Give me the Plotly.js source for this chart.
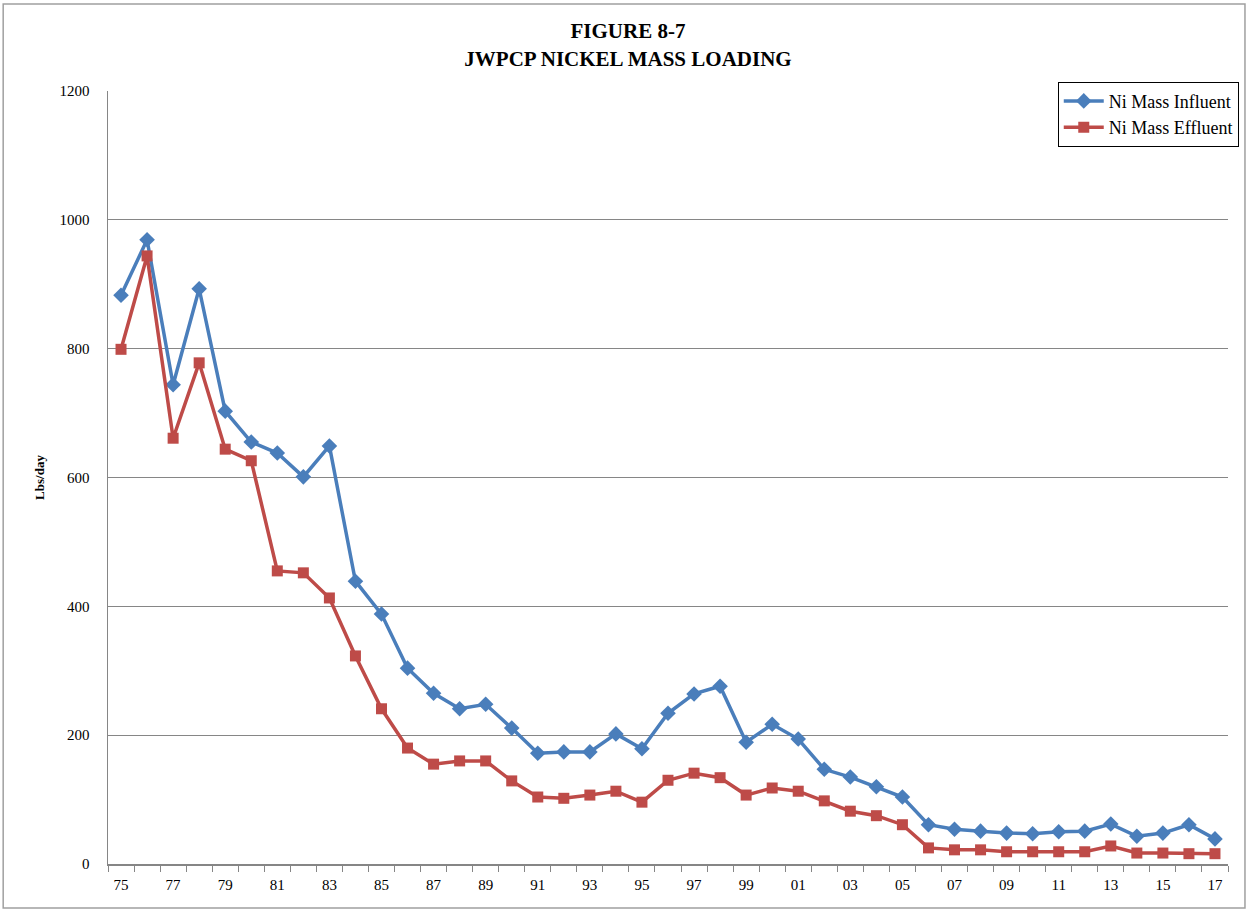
<!DOCTYPE html>
<html>
<head>
<meta charset="utf-8">
<script src="https://cdn.plot.ly/plotly-3.0.1.min.js"></script>
<style>
html,body{margin:0;padding:0;background:#fff;}
#chart{width:1251px;height:912px;}
</style>
</head>
<body>
<div id="chart"></div>
<script>
const categories = ["75","76","77","78","79","80","81","82","83","84","85","86","87","88","89","90","91","92","93","94","95","96","97","98","99","00","01","02","03","04","05","06","07","08","09","10","11","12","13","14","15","16","17"];
const influent = [883,969,744,893,703,655,638,601,649,439,388,304,265,241,248,211,172,174,174,202,179,234,264,276,189,217,194,147,135,120,104,61,54,51,48,47,50,51,62,43,48,61,39];
const effluent = [799,944,661,778,644,626,455,452,413,323,241,180,155,160,160,129,104,102,107,113,96,130,141,134,107,118,113,98,82,75,61,25,22,22,19,19,19,19,28,17,17,16,16];
const seriesNames = ["Ni Mass Influent","Ni Mass Effluent"];
const yTicks = [0,200,400,600,800,1000,1200];

const xIdx = categories.map((c,i)=>i);
const tickText = categories.map((c,i)=> i%2===0 ? c : "");

const traces = [
  {x:xIdx, y:influent, name:seriesNames[0], type:"scatter", mode:"lines+markers",
   line:{color:"#4A7EBB", width:3.5}, marker:{symbol:"diamond", size:12, color:"#4A7EBB"}},
  {x:xIdx, y:effluent, name:seriesNames[1], type:"scatter", mode:"lines+markers",
   line:{color:"#BE4B48", width:3.5}, marker:{symbol:"square", size:11, color:"#BE4B48"}}
];

const layout = {
  width:1251, height:912,
  margin:{l:108, r:21, t:91, b:48},
  paper_bgcolor:"#fff", plot_bgcolor:"#fff",
  font:{family:"Liberation Serif, Times New Roman, serif", color:"#000", size:14},
  title:{text:"<b>FIGURE 8-7</b><br><b>JWPCP NICKEL MASS LOADING</b>", x:0.502, xref:"container", xanchor:"center", y:0.958, yref:"container", yanchor:"top",
         font:{family:"Liberation Serif, serif", size:21, color:"#000"}},
  showlegend:true,
  legend:{x:0.848, xanchor:"left", y:1.012, yanchor:"top", bgcolor:"#fff", bordercolor:"#000", borderwidth:1,
          font:{family:"Liberation Serif, serif", size:18, color:"#000"}, tracegroupgap:0, itemwidth:40},
  xaxis:{range:[-0.5, categories.length-0.5], tickmode:"array", tickvals:xIdx.map(v=>v-0.5).concat([categories.length-0.5]),
         ticktext:tickText.map(()=>"").concat([""]), ticks:"outside", ticklen:6, tickcolor:"#868686",
         showgrid:false, zeroline:false, showline:true, linecolor:"#868686", linewidth:1.5, fixedrange:true},
  xaxis2:{overlaying:"x", matches:"x", range:[-0.5, categories.length-0.5], tickmode:"array", tickvals:xIdx, ticktext:tickText,
          ticks:"", showgrid:false, zeroline:false, showline:false, side:"bottom", anchor:"y", ticklabelstandoff:10,
          tickfont:{family:"Liberation Serif, serif", size:15, color:"#000"}},
  yaxis:{range:[0,1200], tickvals:yTicks, ticks:"", showgrid:true, gridcolor:"#868686", gridwidth:1,
         zeroline:false, showline:true, linecolor:"#868686", linewidth:1.5, ticklabelstandoff:14,
         tickfont:{family:"Liberation Serif, serif", size:15, color:"#000"},
         title:{text:"<b>Lbs/day</b>", standoff:12, font:{family:"Liberation Serif, serif", size:13, color:"#000"}}},
  shapes:[{type:"rect", xref:"paper", yref:"paper", x0:(3-108)/1122, x1:(1247-108)/1122, y0:(864-908)/773, y1:(864-4)/773,
           line:{color:"#A0A0A0", width:1.5}, fillcolor:"rgba(0,0,0,0)", layer:"below"}]
};
traces.push({x:[0], y:[null], xaxis:"x2", showlegend:false, hoverinfo:"skip", mode:"markers"});

Plotly.newPlot("chart", traces, layout, {displayModeBar:false, staticPlot:true});
</script>
</body>
</html>
